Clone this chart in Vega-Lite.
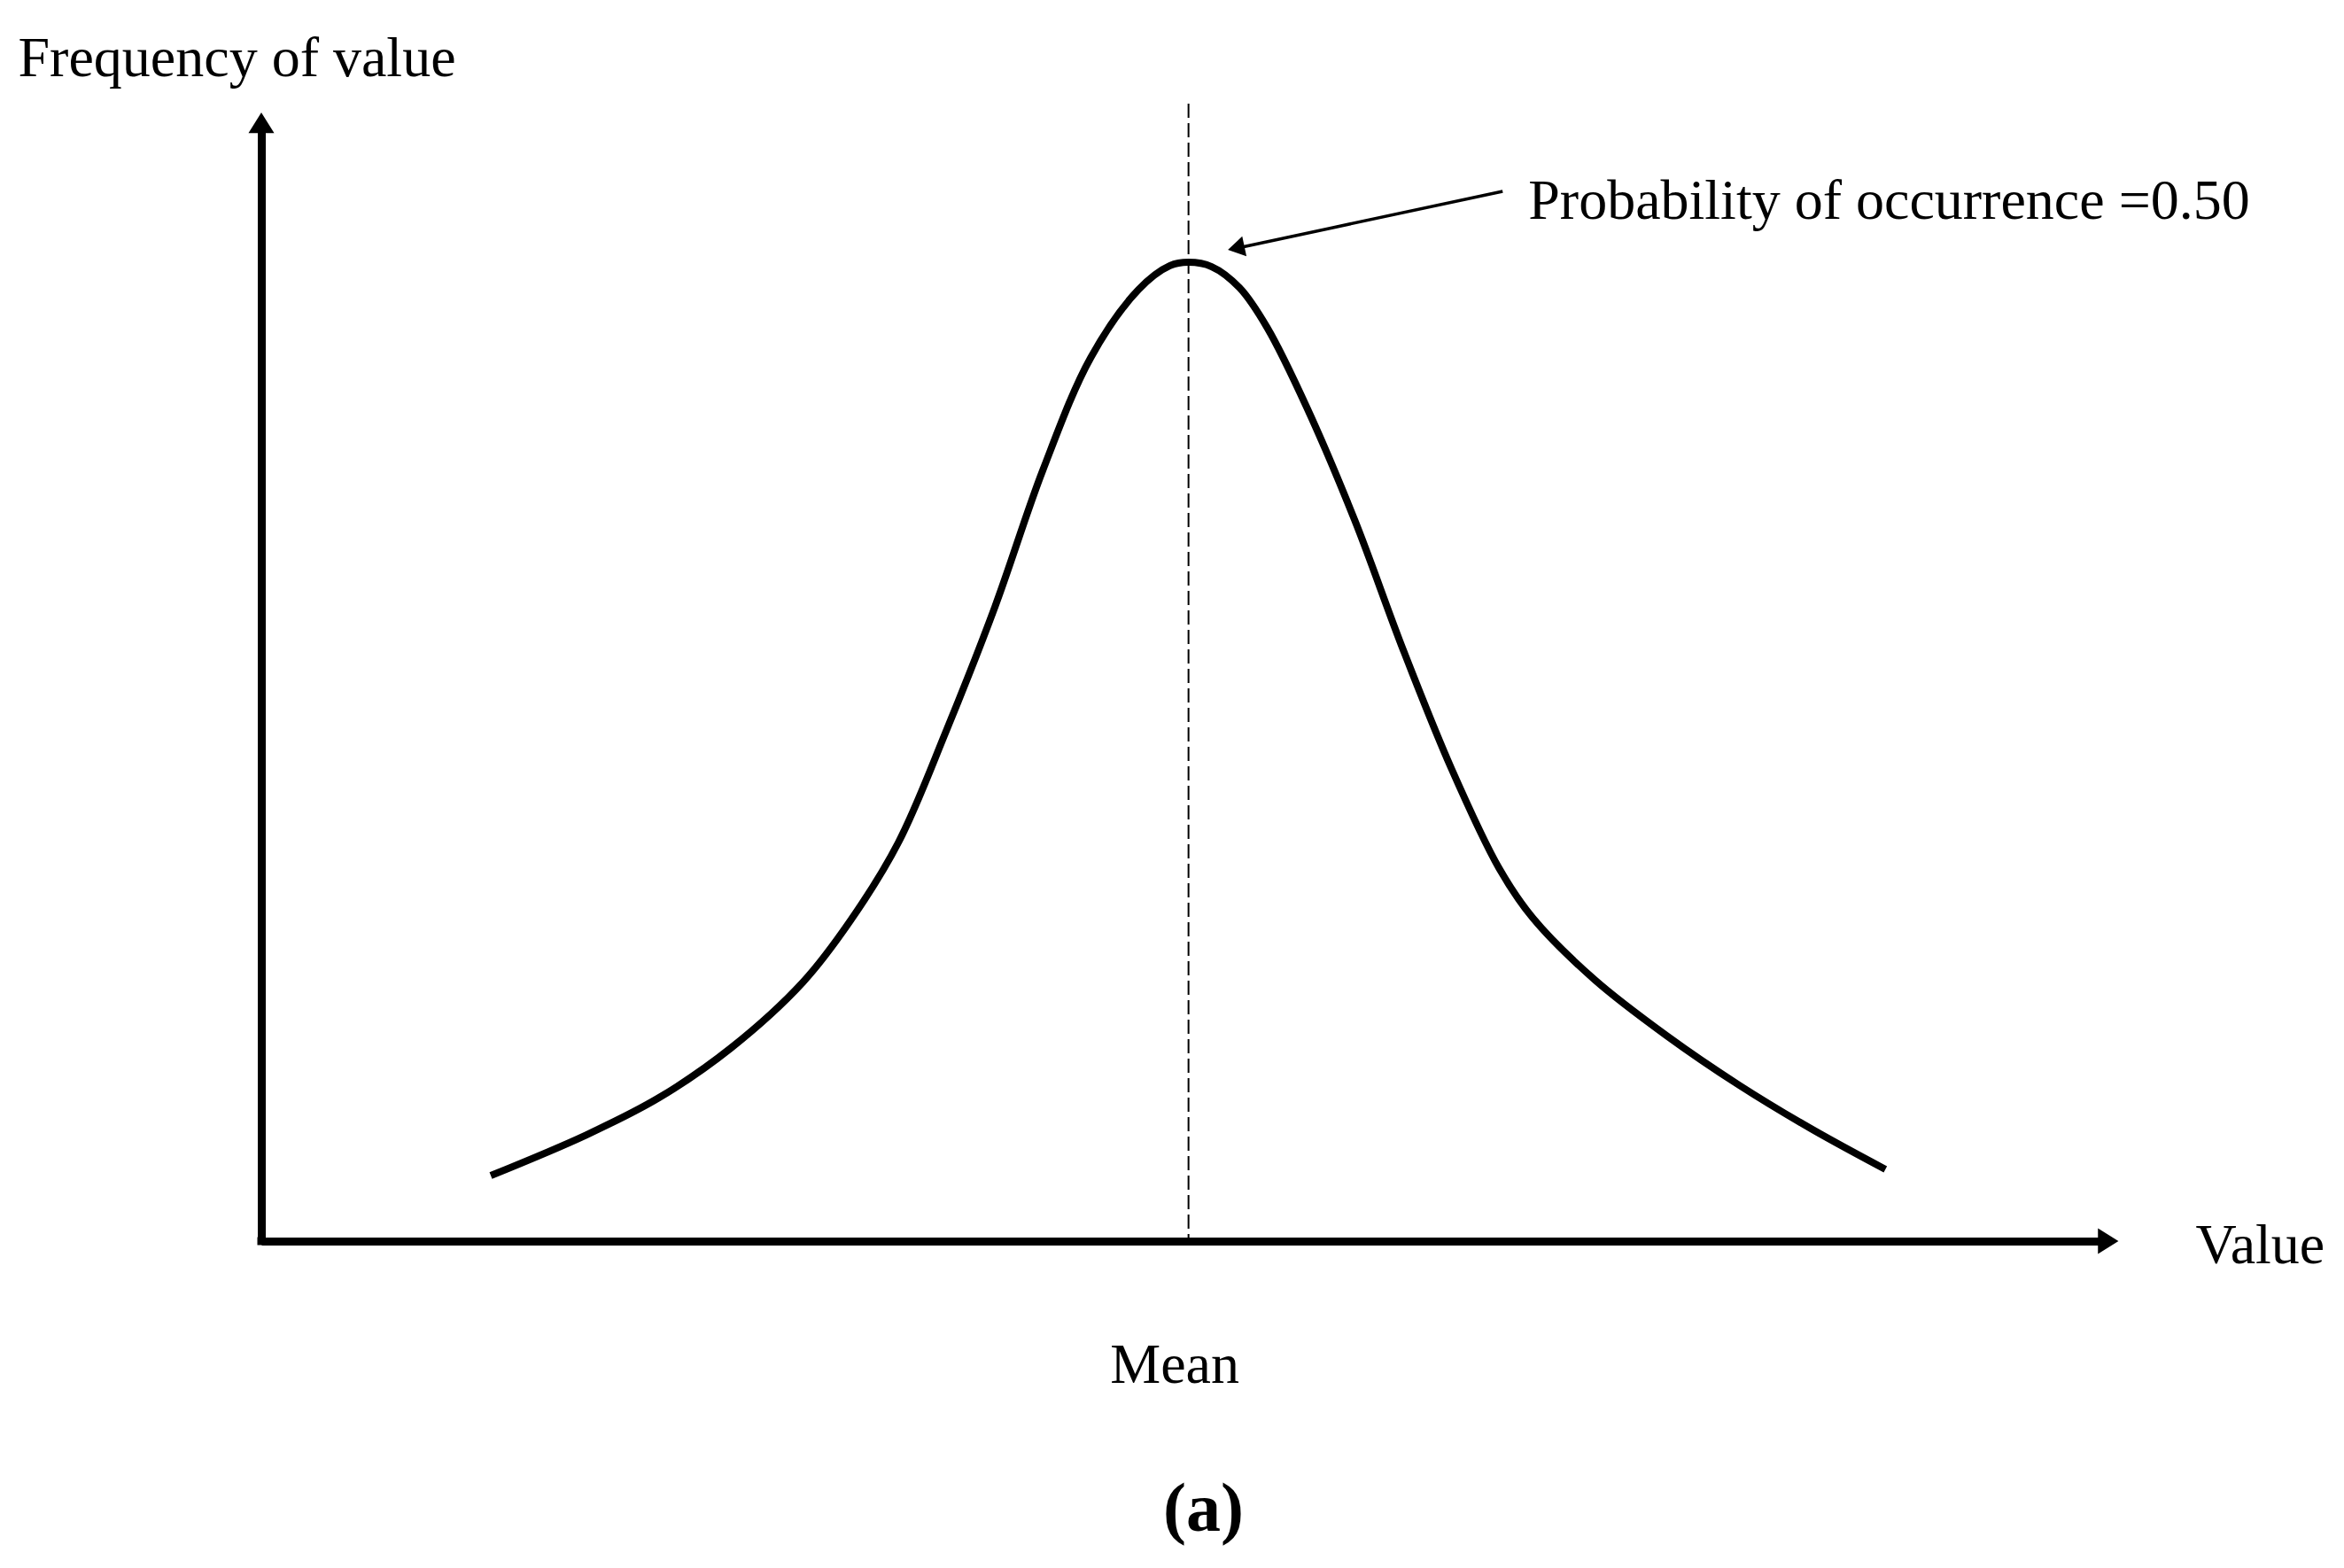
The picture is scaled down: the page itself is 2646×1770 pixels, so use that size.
{
  "$schema": "https://vega.github.io/schema/vega-lite/v6.json",
  "width": 2087,
  "height": 1266,
  "autosize": {"type": "none"},
  "padding": {"left": 295, "top": 135, "right": 264, "bottom": 369},
  "background": "white",
  "config": {"view": {"stroke": null}, "font": "Liberation Serif"},
  "title": {
    "text": "(a)",
    "orient": "bottom",
    "anchor": "middle",
    "font": "Liberation Serif",
    "fontSize": 78,
    "fontWeight": "bold",
    "color": "black",
    "baseline": "top",
    "offset": 93,
    "dx": 20
  },
  "layer": [
    {
      "data": {"values": [{}]},
      "mark": {"type": "rule", "color": "black", "strokeWidth": 2, "strokeDash": [16, 6]},
      "encoding": {
        "x": {"datum": 10, "type": "quantitative"},
        "y": {"datum": 11.62, "type": "quantitative"},
        "y2": {"datum": 0}
      }
    },
    {
      "data": {
        "values": [
          {"value": 2.475, "frequency": 0.670},
          {"value": 3.507, "frequency": 1.086},
          {"value": 4.290, "frequency": 1.466},
          {"value": 5.065, "frequency": 1.973},
          {"value": 5.839, "frequency": 2.643},
          {"value": 6.355, "frequency": 3.276},
          {"value": 6.871, "frequency": 4.073},
          {"value": 7.387, "frequency": 5.213},
          {"value": 7.912, "frequency": 6.480},
          {"value": 8.428, "frequency": 7.874},
          {"value": 8.944, "frequency": 9.024},
          {"value": 9.460, "frequency": 9.720},
          {"value": 9.80, "frequency": 9.965},
          {"value": 10.0, "frequency": 10.0},
          {"value": 10.25, "frequency": 9.955},
          {"value": 10.55, "frequency": 9.74},
          {"value": 10.85, "frequency": 9.33},
          {"value": 11.276, "frequency": 8.517},
          {"value": 11.792, "frequency": 7.367},
          {"value": 12.317, "frequency": 6.037},
          {"value": 12.833, "frequency": 4.833},
          {"value": 13.349, "frequency": 3.810},
          {"value": 13.712, "frequency": 3.303},
          {"value": 14.381, "frequency": 2.670},
          {"value": 15.155, "frequency": 2.100},
          {"value": 15.939, "frequency": 1.593},
          {"value": 16.713, "frequency": 1.149},
          {"value": 17.516, "frequency": 0.733}
        ]
      },
      "mark": {"type": "line", "interpolate": "catmull-rom", "color": "black", "strokeWidth": 8, "strokeCap": "butt"},
      "encoding": {
        "x": {
          "field": "value",
          "type": "quantitative",
          "scale": {"domain": [0, 19.94], "nice": false, "zero": false},
          "axis": {
            "values": [10],
            "labelExpr": "'Mean'",
            "ticks": false,
            "tickSize": 0,
            "grid": false,
            "domain": true,
            "domainColor": "black",
            "domainWidth": 9,
            "labelFont": "Liberation Serif",
            "labelFontSize": 64,
            "labelColor": "black",
            "labelPadding": 159,
            "labelBaseline": "alphabetic",
            "labelOffset": -16,
            "labelFlush": false,
            "labelOverlap": false,
            "title": "Value",
            "titleFont": "Liberation Serif",
            "titleFontSize": 64,
            "titleFontWeight": "normal",
            "titleColor": "black",
            "titleX": 2183,
            "titleY": 24,
            "titleAlign": "left",
            "titleBaseline": "alphabetic"
          }
        },
        "y": {
          "field": "frequency",
          "type": "quantitative",
          "scale": {"domain": [0, 11.458], "nice": false, "zero": false},
          "axis": {
            "ticks": false,
            "labels": false,
            "grid": false,
            "domain": true,
            "domainColor": "black",
            "domainWidth": 9,
            "title": "Frequency of value",
            "titleAngle": 0,
            "titleX": -275,
            "titleY": -50,
            "titleAlign": "left",
            "titleBaseline": "alphabetic",
            "titleFont": "Liberation Serif",
            "titleFontSize": 64,
            "titleFontWeight": "normal",
            "titleColor": "black"
          }
        }
      }
    },
    {
      "data": {"values": [{}]},
      "mark": {"type": "point", "shape": "square", "filled": true, "color": "black", "opacity": 1, "size": 81, "strokeWidth": 0},
      "encoding": {
        "x": {"datum": 0, "type": "quantitative"},
        "y": {"datum": 0, "type": "quantitative"}
      }
    },
    {
      "data": {"values": [{}]},
      "mark": {"type": "point", "shape": "M0,0L-1.6,-1L-1.6,1Z", "filled": true, "color": "black", "opacity": 1, "size": 841, "strokeWidth": 0},
      "encoding": {
        "x": {"datum": 20.03, "type": "quantitative"},
        "y": {"datum": 0, "type": "quantitative"}
      }
    },
    {
      "data": {"values": [{}]},
      "mark": {"type": "point", "shape": "M0,0L-1,1.6L1,1.6Z", "filled": true, "color": "black", "opacity": 1, "size": 841, "strokeWidth": 0},
      "encoding": {
        "x": {"datum": 0, "type": "quantitative"},
        "y": {"datum": 11.53, "type": "quantitative"}
      }
    },
    {
      "data": {"values": [{}]},
      "mark": {"type": "rule", "color": "black", "strokeWidth": 3.5},
      "encoding": {
        "x": {"datum": 13.388, "type": "quantitative"},
        "y": {"datum": 10.725, "type": "quantitative"},
        "x2": {"datum": 10.53},
        "y2": {"datum": 10.146}
      }
    },
    {
      "data": {"values": [{}]},
      "mark": {"type": "point", "shape": "M0,0L-1.65,-1L-1.65,1Z", "filled": true, "color": "black", "opacity": 1, "size": 529, "strokeWidth": 0, "angle": 168},
      "encoding": {
        "x": {"datum": 10.425, "type": "quantitative"},
        "y": {"datum": 10.128, "type": "quantitative"}
      }
    },
    {
      "data": {"values": [{}]},
      "mark": {"type": "text", "text": "Probability of occurrence =0.50", "font": "Liberation Serif", "fontSize": 64, "color": "black", "align": "left", "baseline": "alphabetic"},
      "encoding": {
        "x": {"datum": 13.665, "type": "quantitative"},
        "y": {"datum": 10.445, "type": "quantitative"}
      }
    }
  ]
}
